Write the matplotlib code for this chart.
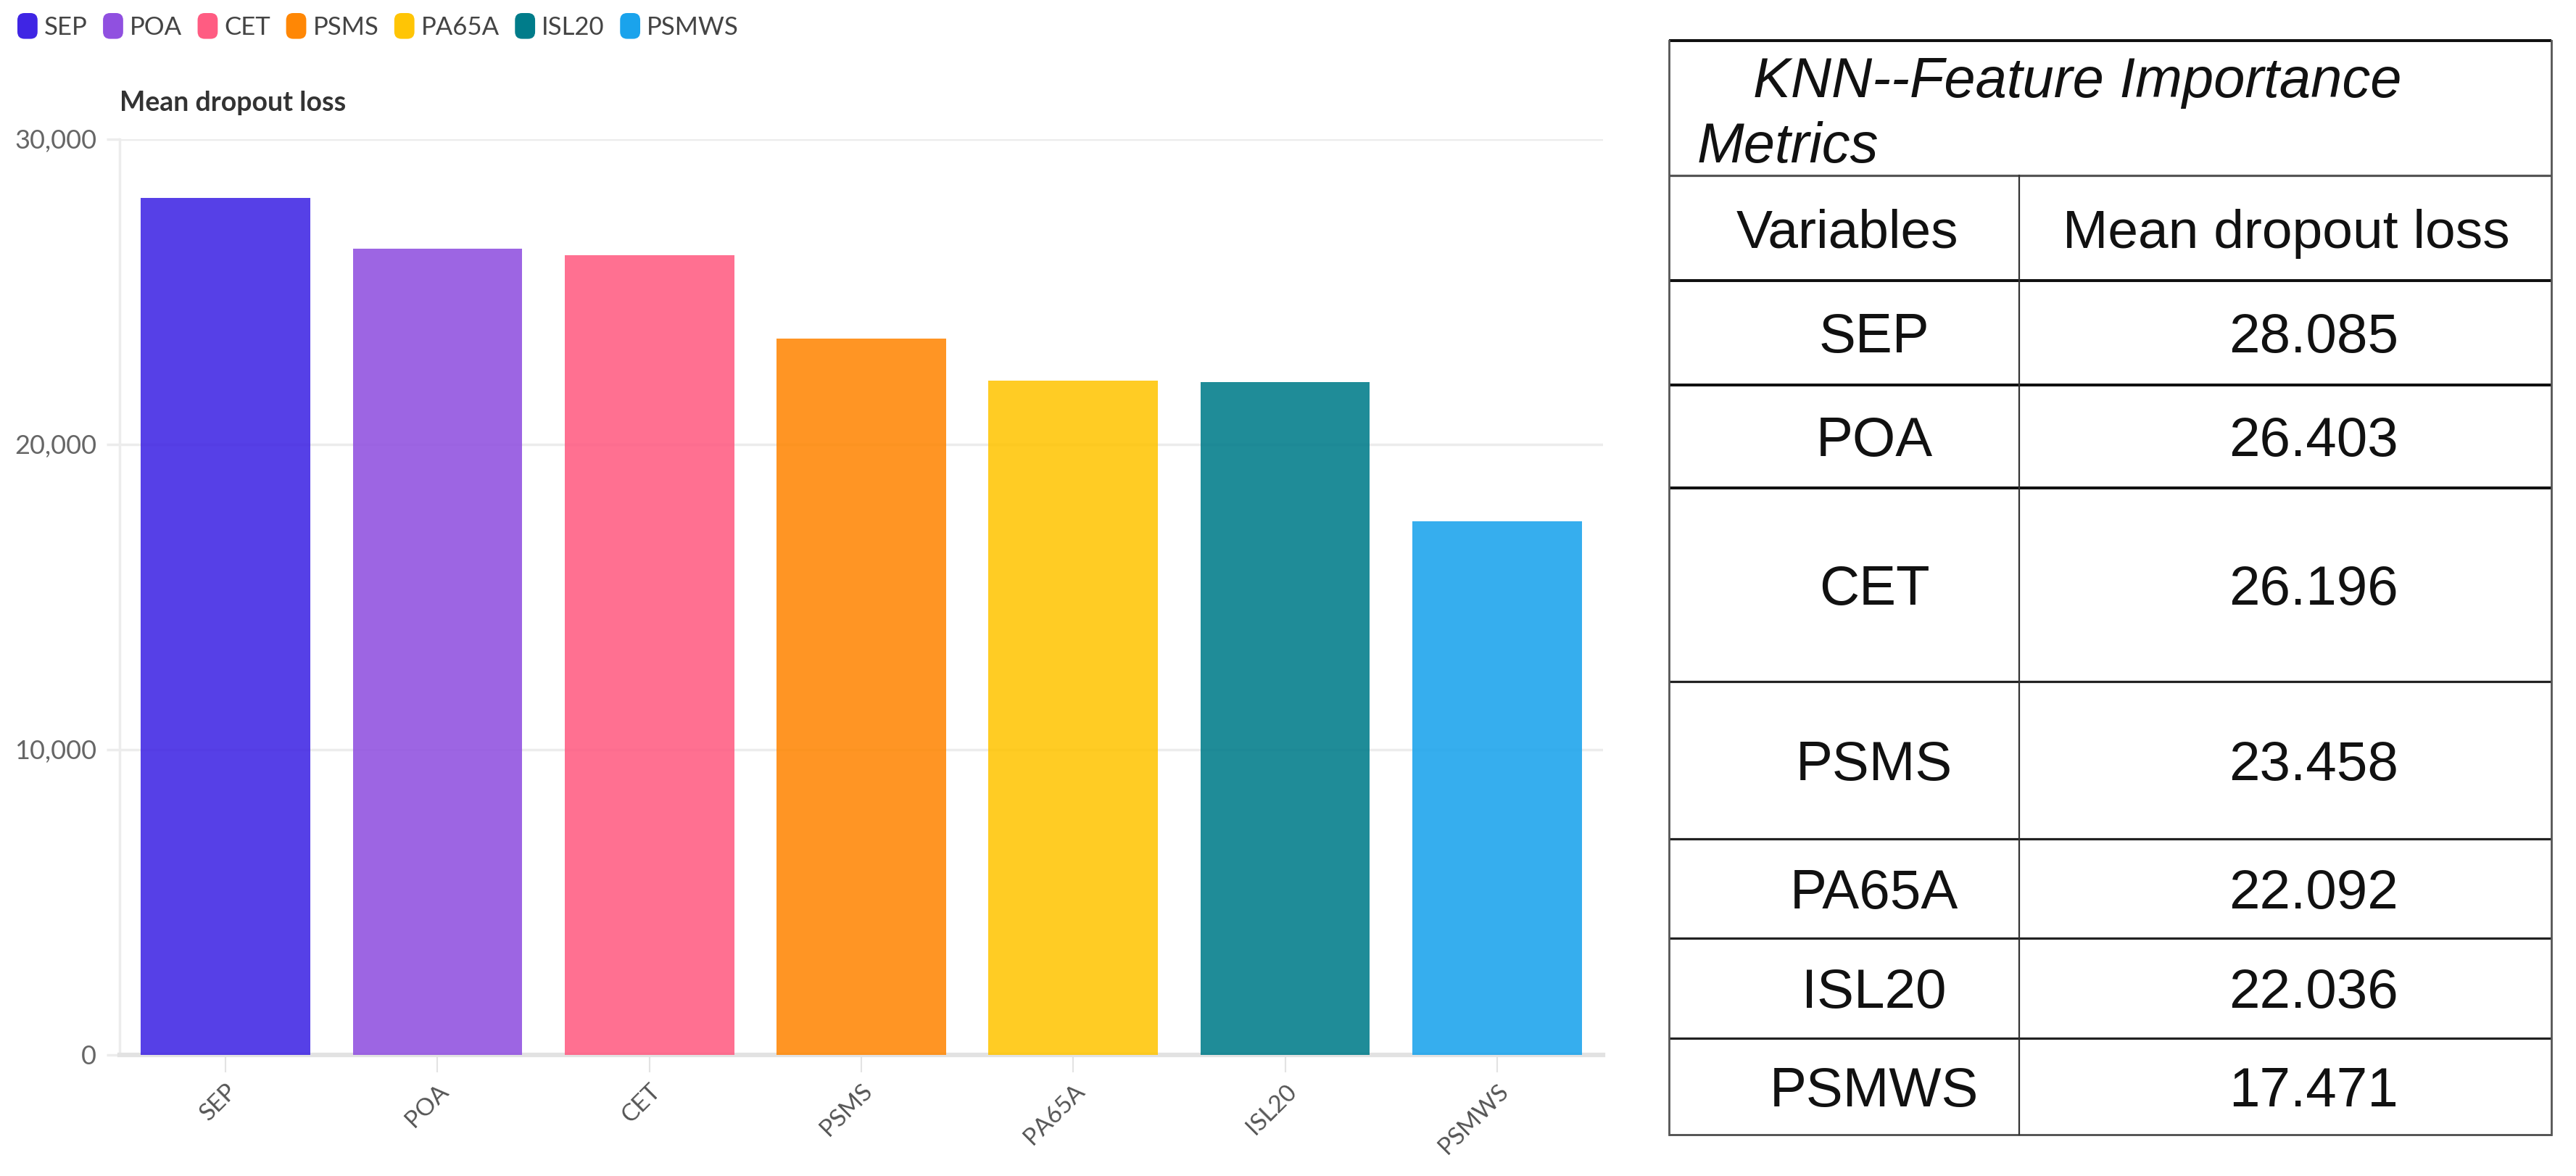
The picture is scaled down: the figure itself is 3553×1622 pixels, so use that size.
import matplotlib
matplotlib.use("Agg")
import matplotlib.pyplot as plt
from matplotlib.patches import FancyBboxPatch
from matplotlib.legend_handler import HandlerPatch
from matplotlib.patches import Patch
from matplotlib.ticker import FuncFormatter

# ---------------- data ----------------
variables = ['SEP', 'POA', 'CET', 'PSMS', 'PA65A', 'ISL20', 'PSMWS']
dropout_loss = [28085, 26403, 26196, 23458, 22092, 22036, 17471]
bar_colors = ['#3F25E4', '#9050E0', '#FF5C82', '#FF8705', '#FFC505', '#007C8A', '#1AA3EC']
y_ticks = [0, 10000, 20000, 30000]
table_title_lines = ['KNN--Feature Importance', 'Metrics']
table_header = ['Variables', 'Mean dropout loss']
table_values = [f"{v / 1000:.3f}" for v in dropout_loss]

W, H = 3553, 1622
DPI = 100
fig = plt.figure(figsize=(W / DPI, H / DPI), dpi=DPI)
fig.patch.set_facecolor('white')

def fx(px):
    return px / W

def fy(py):
    return 1 - py / H

CHART_FONT = ['Lato', 'DejaVu Sans']
TABLE_FONT = ['Liberation Sans', 'DejaVu Sans']

# ---------------- bar chart ----------------
ax_l, ax_r, ax_t, ax_b = 165, 2211, 192, 1455
ax = fig.add_axes([fx(ax_l), fy(ax_b), fx(ax_r - ax_l), (ax_b - ax_t) / H])
x = list(range(len(variables)))
ax.bar(x, dropout_loss, width=0.8, color=bar_colors, alpha=0.88, zorder=3)
ax.set_xlim(-0.5, len(variables) - 0.5)
ax.set_ylim(0, 30000)
ax.set_yticks(y_ticks)
ax.yaxis.set_major_formatter(FuncFormatter(lambda v, p: f"{int(v):,}"))
ax.grid(axis='y', color='#ececec', linewidth=2.5, zorder=0)
ax.set_axisbelow(True)
for s in ['top', 'right']:
    ax.spines[s].set_visible(False)
ax.spines['left'].set_color('#ececec')
ax.spines['left'].set_linewidth(2.5)
ax.spines['bottom'].set_color('#e2e2e2')
ax.spines['bottom'].set_linewidth(4.5)
ax.tick_params(axis='y', length=13, width=2.5, color='#ececec', pad=10,
               labelsize=26, labelcolor='#666666')
ax.set_xticks(x)
ax.set_xticklabels(variables, rotation=45, ha='right', rotation_mode='anchor',
                   fontsize=24, color='#555555', family=CHART_FONT)
ax.tick_params(axis='x', length=17, width=1.5, color='#e3e3e3', pad=8)
for lab in ax.get_yticklabels():
    lab.set_family(CHART_FONT)

fig.text(fx(165), fy(153), 'Mean dropout loss', fontsize=27, fontweight='bold',
         color='#333333', family=CHART_FONT, ha='left', va='baseline')

# legend with rounded swatches
class HandlerRound(HandlerPatch):
    def create_artists(self, legend, orig_handle, xdescent, ydescent, width,
                       height, fontsize, trans):
        p = FancyBboxPatch((-xdescent, -ydescent), width, height,
                           boxstyle=f"round,pad=0,rounding_size={width * 0.35}",
                           facecolor=orig_handle.get_facecolor(),
                           edgecolor='none', transform=trans)
        return [p]

handles = [Patch(facecolor=c, label=v) for v, c in zip(variables, bar_colors)]
leg = fig.legend(handles=handles, loc='upper left',
                 bbox_to_anchor=(fx(24), fy(18)), ncol=len(variables),
                 frameon=False, handlelength=0.8, handleheight=1.2,
                 handletextpad=0.26, columnspacing=0.62, borderpad=0,
                 borderaxespad=0, handler_map={Patch: HandlerRound()},
                 prop={'family': CHART_FONT, 'size': 25})
for t in leg.get_texts():
    t.set_color('#444444')

# ---------------- table ----------------
t_left, t_right, t_top, t_bottom = 2302, 3519, 56, 1565
col_split = 483
row_heights = [186, 145, 144, 142, 267, 217, 137, 138, 133]
line_widths = [2.9, 2.3, 2.9, 2.9, 2.9, 2.3, 2.3, 2.3, 2.3, 1.9]
line_colors = ['#111111', '#555555', '#111111', '#111111', '#111111',
               '#222222', '#222222', '#222222', '#222222', '#444444']

tax = fig.add_axes([fx(t_left), fy(t_bottom), fx(t_right - t_left),
                    (t_bottom - t_top) / H])
tw = t_right - t_left
th = t_bottom - t_top
tax.set_xlim(0, tw)
tax.set_ylim(th, 0)
tax.axis('off')

bounds = [0]
for h in row_heights:
    bounds.append(bounds[-1] + h)

for i, yb in enumerate(bounds):
    tax.plot([0, tw], [yb, yb], color=line_colors[i], lw=line_widths[i],
             solid_capstyle='butt', clip_on=False)
tax.plot([0, 0], [0, th], color='#555555', lw=2.0, clip_on=False)
tax.plot([tw, tw], [0, th], color='#555555', lw=2.0, clip_on=False)
tax.plot([col_split, col_split], [bounds[1], th], color='#333333', lw=1.6,
         clip_on=False)

fs_title = 56
fs_cell = 55
tax.text(116, 78, table_title_lines[0], fontsize=fs_title, style='italic',
         family=TABLE_FONT, ha='left', va='baseline', color='#111111')
tax.text(39, 168, table_title_lines[1], fontsize=fs_title, style='italic',
         family=TABLE_FONT, ha='left', va='baseline', color='#111111')

cap_half = 0.716 * fs_cell * DPI / 72 / 2

hc = (bounds[1] + bounds[2]) / 2
tax.text(246, hc + cap_half, table_header[0], fontsize=fs_cell - 1,
         family=TABLE_FONT, ha='center', va='baseline', color='#111111')
tax.text(851, hc + cap_half, table_header[1], fontsize=fs_cell - 1,
         family=TABLE_FONT, ha='center', va='baseline', color='#111111')

for i, (v, val) in enumerate(zip(variables, table_values)):
    c = (bounds[i + 2] + bounds[i + 3]) / 2
    tax.text(283, c + cap_half, v, fontsize=fs_cell, family=TABLE_FONT,
             ha='center', va='baseline', color='#111111')
    tax.text(889, c + cap_half, val, fontsize=fs_cell, family=TABLE_FONT,
             ha='center', va='baseline', color='#111111')

fig.savefig('out.png', dpi=DPI, facecolor='white')
